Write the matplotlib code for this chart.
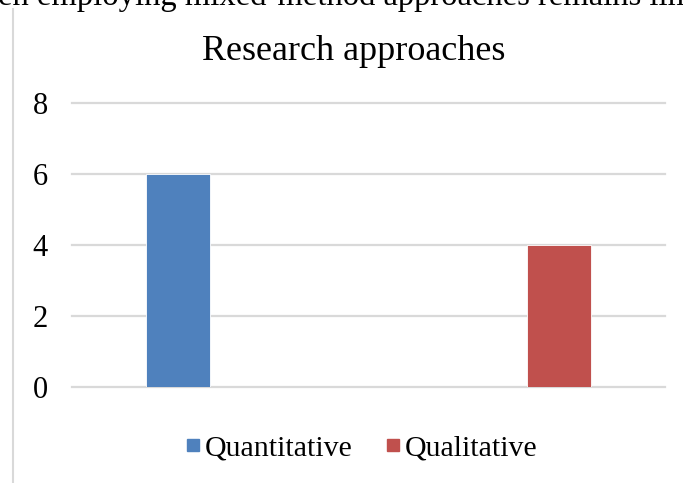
import numpy as np
import matplotlib
matplotlib.use("Agg")
import matplotlib.pyplot as plt
from matplotlib.lines import Line2D

plt.rcParams['font.family'] = ['Liberation Serif', 'DejaVu Serif']

# chart data
categories = ["Quantitative", "Qualitative"]
series_names = ["Quantitative", "Qualitative"]
series_values = [[6, 0], [0, 4]]
series_colors = ["#4f81bd", "#c0504d"]
y_ticks = [0, 2, 4, 6, 8]
chart_title = "Research approaches"
caption_text = "en employing mixed-method approaches remains lim"

fig = plt.figure(figsize=(6.83, 4.83), dpi=100)
ax = fig.add_axes([72 / 683, 1 - 387 / 483, (665 - 72) / 683, (387 - 103) / 483])

# clustered bars, one series per colour
x = np.arange(len(categories))
width = 0.219
offsets = [-0.1425, 0.1425]
for vals, off, col, name in zip(series_values, offsets, series_colors, series_names):
    ax.bar(x + off, vals, width, color=col, edgecolor="white", linewidth=0.6,
           zorder=3, label=name)

ax.set_xlim(-0.5, len(categories) - 0.5)
ax.set_ylim(0, 8)
ax.set_yticks(y_ticks)
ax.set_xticks([])
for t in y_ticks:
    ax.axhline(t, color="#d9d9d9", linewidth=1.6, zorder=1, clip_on=False)
for s in ax.spines.values():
    s.set_visible(False)
ax.tick_params(axis="y", length=0, pad=23, labelsize=22)
for lab in ax.get_yticklabels():
    lab.set_horizontalalignment("center")

fig.text(0.5176, 1 - 60 / 483, chart_title, ha="center", va="baseline", fontsize=26)

# legend with square markers
handles = [Line2D([], [], marker="s", linestyle="none", markersize=8,
                  markerfacecolor=c, markeredgecolor=c) for c in series_colors]
fig.legend(handles, series_names, loc="center", bbox_to_anchor=(360 / 683, 1 - 448 / 483),
           ncol=2, frameon=False, fontsize=21.5, handletextpad=0.05, columnspacing=1.0,
           handlelength=0.7)

# surrounding page elements: text line above and left border
fig.text(-0.003, 1 - 5 / 483, caption_text, ha="left", va="baseline", fontsize=23.5)
fig.add_artist(Line2D([12.5 / 683, 12.5 / 683], [0, 1 - 9 / 483], color="#d9d9d9",
                      linewidth=1.5, transform=fig.transFigure))

fig.savefig("out.png", dpi=100, facecolor="white")
